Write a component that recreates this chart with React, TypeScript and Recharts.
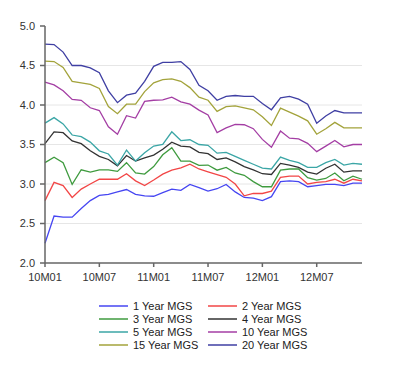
import React from "react"
import { LineChart, Line, XAxis, YAxis, ReferenceLine } from "recharts"

const years = ["10", "11", "12"]
const monthNums = ["01", "02", "03", "04", "05", "06", "07", "08", "09", "10", "11", "12"]
const months = years.flatMap((y) => monthNums.map((m) => `${y}M${m}`))

const xTicks = ["10M01", "10M07", "11M01", "11M07", "12M01", "12M07"]
const yTicks = [2.0, 2.5, 3.0, 3.5, 4.0, 4.5, 5.0]
const gridValues = [2.5, 3.0, 3.5, 4.0, 4.5]

const y1 = [2.25, 2.595, 2.58, 2.58, 2.69, 2.79, 2.855, 2.87, 2.9, 2.93, 2.87, 2.85, 2.845, 2.89, 2.935, 2.92, 2.995, 2.955, 2.91, 2.94, 2.995, 2.9, 2.83, 2.82, 2.79, 2.84, 3.03, 3.04, 3.03, 2.965, 2.98, 2.995, 2.995, 2.98, 3.01, 3.01]
const y2 = [2.79, 3.02, 2.98, 2.83, 2.935, 3.0, 3.06, 3.06, 3.06, 3.13, 3.04, 2.98, 3.05, 3.125, 3.175, 3.205, 3.25, 3.19, 3.155, 3.12, 3.085, 3.0, 2.85, 2.88, 2.88, 2.91, 3.085, 3.1, 3.1, 3.0, 3.02, 3.03, 3.06, 3.01, 3.06, 3.04]
const y3 = [3.27, 3.34, 3.27, 2.995, 3.18, 3.15, 3.18, 3.18, 3.16, 3.27, 3.14, 3.125, 3.22, 3.37, 3.46, 3.29, 3.29, 3.235, 3.24, 3.175, 3.21, 3.14, 3.11, 3.03, 2.965, 2.965, 3.175, 3.19, 3.19, 3.08, 3.05, 3.07, 3.14, 3.04, 3.1, 3.06]
const y4 = [3.51, 3.66, 3.65, 3.545, 3.51, 3.42, 3.35, 3.31, 3.23, 3.36, 3.29, 3.33, 3.365, 3.44, 3.53, 3.48, 3.47, 3.4, 3.385, 3.31, 3.33, 3.28, 3.22, 3.18, 3.13, 3.12, 3.26, 3.24, 3.21, 3.15, 3.125, 3.2, 3.25, 3.15, 3.165, 3.165]
const y5 = [3.77, 3.84, 3.76, 3.62, 3.6, 3.53, 3.42, 3.38, 3.24, 3.43, 3.29, 3.395, 3.48, 3.5, 3.66, 3.55, 3.56, 3.5, 3.49, 3.39, 3.4, 3.35, 3.3, 3.25, 3.2, 3.19, 3.34, 3.3, 3.27, 3.21, 3.21, 3.27, 3.31, 3.24, 3.26, 3.25]
const y10 = [4.29, 4.255, 4.18, 4.07, 4.06, 3.965, 3.93, 3.725, 3.63, 3.865, 3.835, 4.045, 4.06, 4.065, 4.1, 4.04, 4.01, 3.935, 3.875, 3.65, 3.71, 3.755, 3.75, 3.7, 3.565, 3.465, 3.67, 3.58, 3.57, 3.515, 3.41, 3.48, 3.55, 3.47, 3.5, 3.5]
const y15 = [4.555, 4.55, 4.475, 4.3, 4.28, 4.26, 4.21, 3.98, 3.89, 4.01, 4.01, 4.17, 4.28, 4.32, 4.33, 4.3, 4.22, 4.1, 4.06, 3.92, 3.98, 3.99, 3.965, 3.94, 3.85, 3.74, 3.96, 3.91, 3.86, 3.8, 3.63, 3.7, 3.78, 3.71, 3.71, 3.71]
const y20 = [4.77, 4.765, 4.67, 4.5, 4.5, 4.47, 4.41, 4.18, 4.03, 4.125, 4.15, 4.3, 4.49, 4.54, 4.54, 4.55, 4.45, 4.25, 4.18, 4.06, 4.11, 4.12, 4.11, 4.11, 4.02, 3.94, 4.09, 4.11, 4.075, 4.01, 3.77, 3.86, 3.93, 3.9, 3.9, 3.9]

const series = [
  { key: "y1", name: "1 Year MGS", color: "#4646f2", values: y1 },
  { key: "y2", name: "2 Year MGS", color: "#f24646", values: y2 },
  { key: "y3", name: "3 Year MGS", color: "#3f9b3f", values: y3 },
  { key: "y4", name: "4 Year MGS", color: "#333333", values: y4 },
  { key: "y5", name: "5 Year MGS", color: "#3ba6a6", values: y5 },
  { key: "y10", name: "10 Year MGS", color: "#a43ea4", values: y10 },
  { key: "y15", name: "15 Year MGS", color: "#a3a33b", values: y15 },
  { key: "y20", name: "20 Year MGS", color: "#3f3fa3", values: y20 },
]

const data = months.map((m, i) => {
  const row: Record<string, string | number> = { month: m }
  series.forEach((s) => (row[s.key] = s.values[i]))
  return row
})

const font = "'Liberation Sans', Arial, sans-serif"
const axisColor = "#666"

export default function App() {
  return (
    <div style={{ position: "fixed", left: 0, top: 0, width: 400, height: 377, background: "#fff", fontFamily: font }}>
      <LineChart width={400} height={377} data={data} margin={{ top: 26, right: 38, left: 0, bottom: 84 }}>
        {gridValues.map((v) => (
          <ReferenceLine key={v} y={v} stroke="#e6e6e6" strokeWidth={1} />
        ))}
        <XAxis
          dataKey="month"
          ticks={xTicks}
          interval={0}
          height={30}
          tickSize={4}
          tickMargin={6}
          stroke={axisColor}
          strokeWidth={1.5}
          tick={{ fill: "#333", fontSize: 11, fontFamily: font }}
        />
        <YAxis
          domain={[2, 5]}
          ticks={yTicks}
          width={45}
          tickSize={5}
          tickMargin={5}
          stroke={axisColor}
          strokeWidth={1.5}
          tickFormatter={(v: number) => v.toFixed(1)}
          tick={{ fill: "#333", fontSize: 11, fontFamily: font }}
        />
        {series.map((s) => (
          <Line
            key={s.key}
            dataKey={s.key}
            name={s.name}
            stroke={s.color}
            strokeWidth={1.3}
            dot={false}
            isAnimationActive={false}
          />
        ))}
      </LineChart>
      <div style={{ position: "absolute", left: 99, top: 299, width: 260 }}>
        {series.map((s, i) => (
          <div
            key={s.key}
            style={{
              position: "absolute",
              left: i % 2 === 0 ? 0 : 109,
              top: Math.floor(i / 2) * 13.2,
              display: "flex",
              alignItems: "center",
              height: 13,
              fontSize: 11,
              color: "#222",
              whiteSpace: "nowrap",
            }}
          >
            <span style={{ display: "inline-block", width: 29, height: 2, background: s.color, opacity: 0.75, marginRight: 5 }} />
            {s.name}
          </div>
        ))}
      </div>
    </div>
  )
}
